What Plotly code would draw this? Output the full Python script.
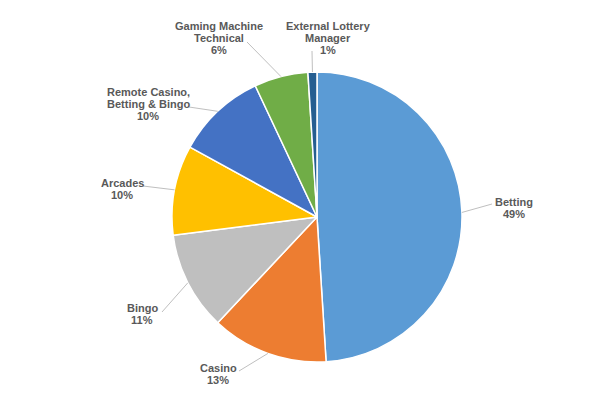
import math
import plotly.graph_objects as go

# data
labels = ["Betting", "Casino", "Bingo", "Arcades",
          "Remote Casino,<br>Betting & Bingo", "Gaming Machine<br>Technical",
          "External Lottery<br>Manager"]
shares = [49, 13, 11, 10, 10, 6, 1]
colors = ["#5B9BD5", "#ED7D31", "#BFBFBF", "#FFC000",
          "#4472C4", "#70AD47", "#255E91"]

# label block centres and leader-line ends, in page pixels (layout only)
label_pos = [(514, 208), (218, 374), (142, 314), (122, 189),
             (148, 104), (219, 38), (328, 38)]
leader_end = [(492, 204), (239, 371), (162, 312), (143, 186),
              (189, 107), (247, 42), (312, 51)]

W, H = 600, 400
OFF = 8            # page body margin in the browser
cx, cy, r = 317, 217, 145
LINE = 12.2


def px(x, y):
    return (x - OFF) / W, 1 - (y - OFF) / H


x0, y0 = px(cx - r, cy + r)
x1, y1 = px(cx + r, cy - r)

fig = go.Figure(go.Pie(
    labels=labels,
    values=shares,
    sort=False,
    direction="clockwise",
    rotation=0,
    marker=dict(colors=colors, line=dict(color="white", width=1.5)),
    textinfo="none",
    hoverinfo="label+percent",
    domain=dict(x=[x0, x1], y=[y0, y1]),
    showlegend=False,
))

total = sum(shares)
cum = 0
for lab, v, (lx, ly), (tx, ty) in zip(labels, shares, label_pos, leader_end):
    mid = (cum + v / 2) / total * 2 * math.pi
    cum += v
    ex = cx + r * math.sin(mid)
    ey = cy - r * math.cos(mid)
    ax0, ay0 = px(ex, ey)
    ax1, ay1 = px(tx, ty)
    fig.add_shape(type="line", xref="paper", yref="paper",
                  x0=ax0, y0=ay0, x1=ax1, y1=ay1,
                  line=dict(color="#BFBFBF", width=1))
    lines = lab.split("<br>") + [f"{round(v / total * 100)}%"]
    n = len(lines)
    for i, t in enumerate(lines):
        yy = ly + (i - (n - 1) / 2) * LINE
        qx, qy = px(lx, yy)
        fig.add_annotation(
            x=qx, y=qy, xref="paper", yref="paper",
            text=t, showarrow=False,
            xanchor="center", yanchor="middle",
            font=dict(family="Liberation Sans", size=11, color="#595959", weight="bold"),
        )

fig.update_layout(
    width=W, height=H,
    margin=dict(l=0, r=0, t=0, b=0),
    paper_bgcolor="white",
)

fig.write_html("out.html")
